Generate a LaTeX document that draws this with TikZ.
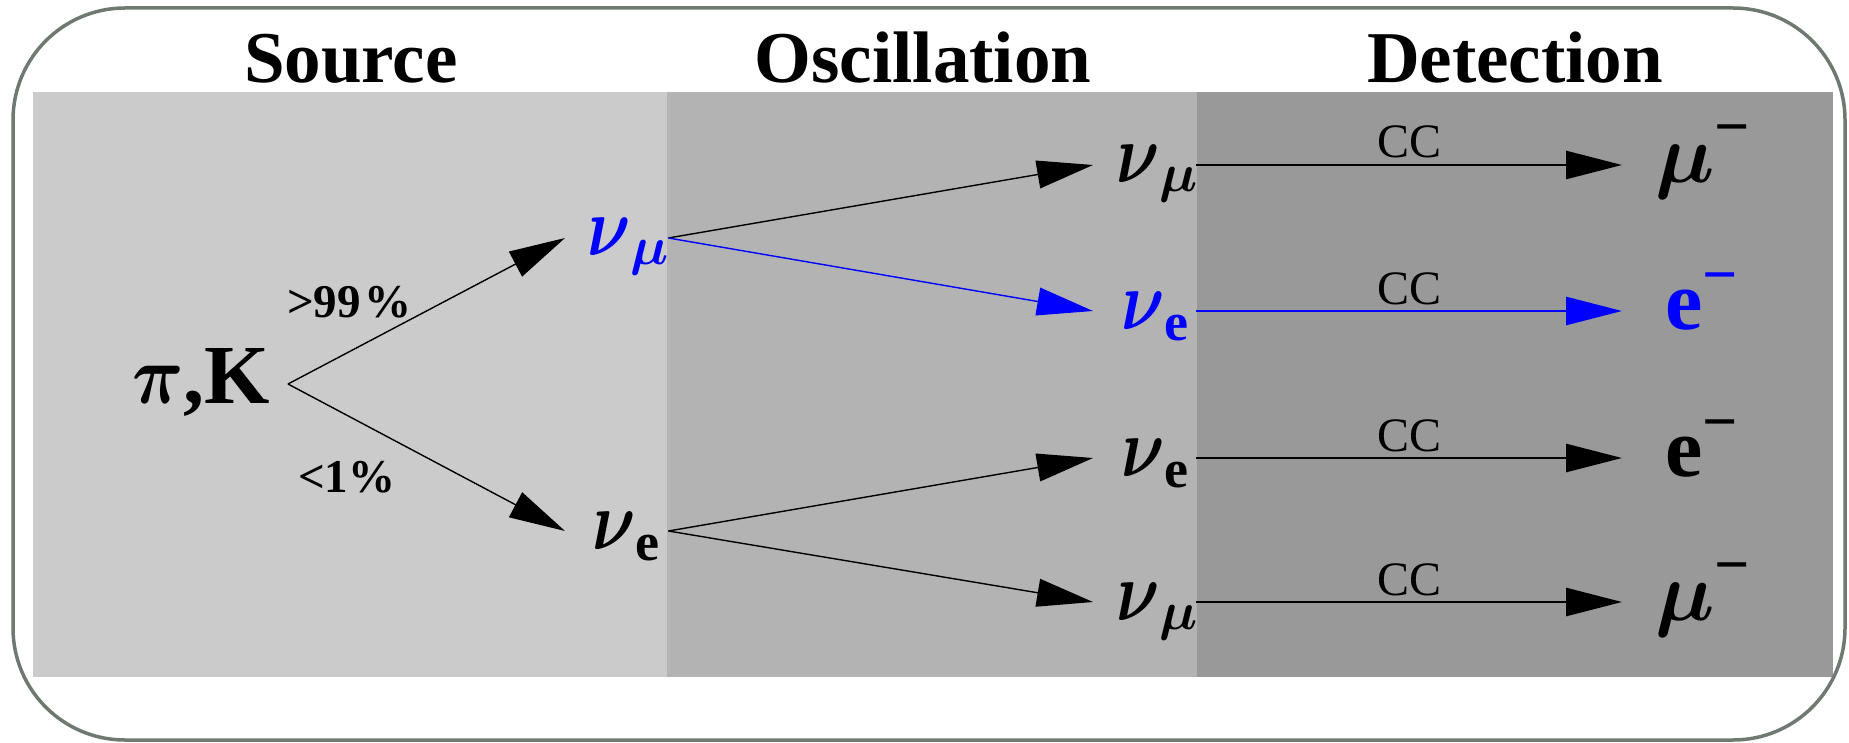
\RequirePackage{fix-cm}
\documentclass[tikz,border=0pt]{standalone}
\usepackage{bm}
\usepackage{graphicx}
\usepackage{fontspec}
\setmainfont{Liberation Serif}
\usetikzlibrary{arrows.meta}
\definecolor{framec}{RGB}{110,122,112}
\definecolor{srcc}{RGB}{203,203,203}
\definecolor{oscc}{RGB}{179,179,179}
\definecolor{detc}{RGB}{153,153,153}
\definecolor{nublue}{RGB}{0,0,255}
\newcommand{\mainsize}{\fontsize{84pt}{90pt}\selectfont}
\newcommand{\subsize}{\fontsize{54pt}{58pt}\selectfont}
\newcommand{\supsize}{\fontsize{62pt}{66pt}\selectfont}
\newcommand{\nuwith}[2]{\scalebox{0.8}[1]{\mainsize$\bm{\nu}$}\raisebox{#1}{\subsize\bfseries #2}}
\newcommand{\minussup}[1]{\raisebox{#1}{\supsize\bfseries −}}
\tikzset{
  part/.style={inner sep=0pt, text height=60pt, text depth=24pt, anchor=west},
  head/.style={inner sep=0pt, anchor=base, font=\fontsize{73pt}{80pt}\selectfont\bfseries},
  lab/.style={inner sep=0pt, anchor=base west, font=\fontsize{47pt}{50pt}\selectfont\bfseries},
  cc/.style={midway, anchor=base, yshift=7pt, inner sep=0pt, font=\fontsize{48pt}{52pt}\selectfont},
  arr/.style={-{Triangle[length=56pt,width=28pt]}, line width=1.4pt},
  darr/.style={-{Triangle[length=56pt,width=28pt]}, line width=2.7pt}
}
\begin{document}
\begin{tikzpicture}[x=1pt,y=-1pt]
\useasboundingbox (0,0) rectangle (1849,743);
\fill[white] (0,0) rectangle (1849,743);
% panels
\fill[srcc] (33,92) rectangle (667,677);
\fill[oscc] (667,92) rectangle (1197,677);
\fill[detc] (1197,92) rectangle (1833,677);
% frame
\draw[framec, line width=3.5pt, rounded corners=112pt] (13,8) rectangle (1845,740);
% headings
\node[head] (hsrc) at (351,83) {Source};
\node[head] (hosc) at (923,83) {Oscillation};
\node[head] (hdet) at (1515,83) {Detection};
% source
\node[part, anchor=east, text height=57pt, text depth=19pt] (pk) at (288,384) {\scalebox{0.85}[1]{\mainsize$\bm{\pi}$}{\mainsize\bfseries,K}\kern18pt};
\node[part] (snmu) at (565,238) {\makebox[103pt][l]{\hspace{22pt}\color{nublue}\nuwith{-9pt}{$\bm{\mu}$}}};
\node[part] (snue) at (565,531) {\makebox[103pt][l]{\hspace{27pt}\nuwith{-11pt}{e}}};
% oscillation
\node[part] (onmu) at (1093,165) {\makebox[103pt][l]{\hspace{23pt}\nuwith{-9pt}{$\bm{\mu}$}}};
\node[part] (onue) at (1093,311) {\makebox[103pt][l]{\hspace{28pt}\color{nublue}\nuwith{-11pt}{e}}};
\node[part] (onue2) at (1093,458) {\makebox[103pt][l]{\hspace{28pt}\nuwith{-11pt}{e}}};
\node[part] (onmu2) at (1093,602) {\makebox[103pt][l]{\hspace{23pt}\nuwith{-9pt}{$\bm{\mu}$}}};
% detection
\node[part] (dmu) at (1622,165) {\hspace{33pt}{\mainsize$\bm{\mu}$}\minussup{35pt}};
\node[part] (de) at (1622,311) {\hspace{43pt}\color{nublue}{\mainsize\bfseries e}\minussup{34pt}};
\node[part] (de2) at (1622,458) {\hspace{43pt}{\mainsize\bfseries e}\minussup{34pt}};
\node[part] (dmu2) at (1622,602) {\hspace{33pt}{\mainsize$\bm{\mu}$}\minussup{35pt}};
% labels
\node[lab] (l99) at (287,317) {>99\kern4pt\%};
\node[lab] (l1) at (298,492) {<1\%};
% connectors
\draw[arr] (pk.east) -- (snmu.west);
\draw[arr] (pk.east) -- (snue.west);
\draw[arr] (snmu.east) -- (onmu.west);
\draw[arr, nublue] (snmu.east) -- (onue.west);
\draw[arr] (snue.east) -- (onue2.west);
\draw[arr] (snue.east) -- (onmu2.west);
\draw[darr] (onmu.east) -- node[cc] (cc1) {CC} (dmu.west);
\draw[darr, nublue] (onue.east) -- node[cc, text=black] (cc2) {CC} (de.west);
\draw[darr] (onue2.east) -- node[cc] (cc3) {CC} (de2.west);
\draw[darr] (onmu2.east) -- node[cc] (cc4) {CC} (dmu2.west);
\end{tikzpicture}
\end{document}
